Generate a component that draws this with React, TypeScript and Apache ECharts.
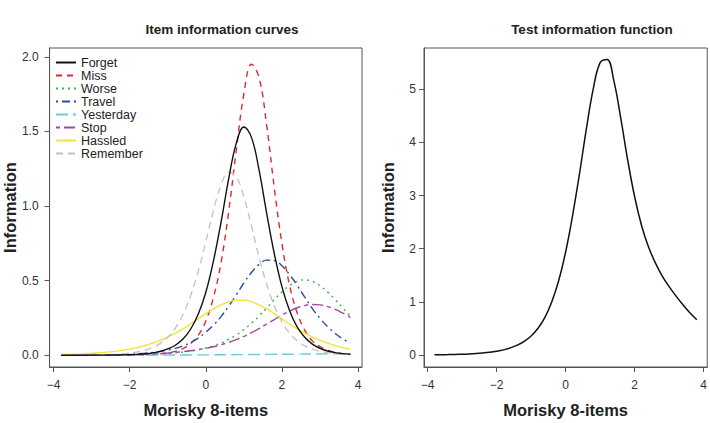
import { useEffect, useRef } from "react";
import * as echarts from "echarts";

const theta = [
  -3.8, -3.6, -3.4, -3.2, -3.0, -2.8, -2.6, -2.4, -2.2, -2.0, -1.8, -1.6, -1.4,
  -1.2, -1.0, -0.8, -0.6, -0.4, -0.2, 0.0, 0.2, 0.4, 0.6, 0.8, 1.0, 1.2, 1.4,
  1.6, 1.8, 2.0, 2.2, 2.4, 2.6, 2.8, 3.0, 3.2, 3.4, 3.6, 3.8,
];

const forget = [
  0.0, 0.0001, 0.0001, 0.0002, 0.0003, 0.0005, 0.0008, 0.0013, 0.0022, 0.0035,
  0.0058, 0.0095, 0.0155, 0.0255, 0.042, 0.067, 0.108, 0.174, 0.274, 0.42, 0.63,
  0.89, 1.18, 1.42, 1.53, 1.46, 1.24, 0.95, 0.68, 0.46, 0.3, 0.19, 0.12, 0.074,
  0.046, 0.028, 0.017, 0.0104, 0.0063,
];
const miss = [
  0.0, 0.0, 0.0, 0.0001, 0.0001, 0.0001, 0.0002, 0.0003, 0.0005, 0.0009, 0.0016,
  0.0028, 0.0049, 0.0085, 0.0149, 0.0257, 0.0447, 0.078, 0.133, 0.23, 0.386,
  0.62, 0.96, 1.37, 1.75, 1.95, 1.86, 1.54, 1.12, 0.75, 0.47, 0.284, 0.168,
  0.096, 0.057, 0.033, 0.019, 0.0106, 0.006,
];
const worse = [
  0.0002, 0.0003, 0.0004, 0.0005, 0.0007, 0.0009, 0.0013, 0.0017, 0.0022,
  0.0029, 0.0039, 0.0051, 0.0068, 0.0091, 0.0121, 0.016, 0.021, 0.028, 0.0365,
  0.048, 0.063, 0.082, 0.106, 0.135, 0.172, 0.214, 0.263, 0.317, 0.372, 0.424,
  0.466, 0.495, 0.505, 0.495, 0.466, 0.424, 0.372, 0.317, 0.263,
];
const travel = [
  0.0004, 0.0006, 0.0008, 0.001, 0.0014, 0.002, 0.0027, 0.0038, 0.0051, 0.0071,
  0.0098, 0.0134, 0.0183, 0.025, 0.035, 0.046, 0.063, 0.086, 0.115, 0.154,
  0.201, 0.259, 0.328, 0.404, 0.484, 0.554, 0.609, 0.637, 0.634, 0.6, 0.541,
  0.468, 0.389, 0.312, 0.247, 0.191, 0.146, 0.109, 0.081,
];
const yesterday = [
  0.0002, 0.0002, 0.0003, 0.0003, 0.0004, 0.0004, 0.0005, 0.0006, 0.0006,
  0.0007, 0.0008, 0.0009, 0.001, 0.0012, 0.0013, 0.0015, 0.0017, 0.0019, 0.0021,
  0.0024, 0.0027, 0.003, 0.0034, 0.0038, 0.0042, 0.0046, 0.0051, 0.0055, 0.006,
  0.0065, 0.0069, 0.0074, 0.0078, 0.0082, 0.0085, 0.0088, 0.009, 0.0092, 0.0093,
];
const stop = [
  0.0006, 0.0007, 0.0009, 0.0012, 0.0015, 0.0019, 0.0024, 0.003, 0.0038, 0.0047,
  0.006, 0.0075, 0.0094, 0.0119, 0.0149, 0.0187, 0.0238, 0.0296, 0.037, 0.046,
  0.057, 0.07, 0.086, 0.105, 0.126, 0.151, 0.178, 0.208, 0.239, 0.269, 0.295,
  0.318, 0.333, 0.34, 0.337, 0.326, 0.307, 0.282, 0.254,
];
const hassled = [
  0.0048, 0.0062, 0.0079, 0.01, 0.0127, 0.0161, 0.0204, 0.0258, 0.0326, 0.041,
  0.051, 0.065, 0.081, 0.099, 0.121, 0.148, 0.176, 0.209, 0.244, 0.279, 0.311,
  0.338, 0.358, 0.369, 0.369, 0.358, 0.338, 0.311, 0.279, 0.244, 0.209, 0.176,
  0.148, 0.121, 0.099, 0.081, 0.065, 0.051, 0.041,
];
const remember = [
  0.0003, 0.0004, 0.0006, 0.001, 0.0015, 0.0023, 0.0036, 0.0057, 0.0088, 0.0137,
  0.0214, 0.033, 0.051, 0.079, 0.12, 0.182, 0.273, 0.398, 0.56, 0.76, 0.968,
  1.139, 1.226, 1.196, 1.061, 0.866, 0.656, 0.475, 0.331, 0.223, 0.149, 0.098,
  0.063, 0.041, 0.026, 0.017, 0.011, 0.0071, 0.0045,
];

const testInfo = [
  0.0065, 0.0085, 0.011, 0.0143, 0.0186, 0.0242, 0.0319, 0.0422, 0.0558, 0.0745,
  0.1, 0.137, 0.188, 0.259, 0.361, 0.505, 0.71, 1.005, 1.402, 1.939, 2.619,
  3.401, 4.247, 5.003, 5.496, 5.558, 5.149, 4.444, 3.661, 2.977, 2.437, 2.036,
  1.734, 1.487, 1.287, 1.109, 0.946, 0.796, 0.665,
];

const itemNames = [
  "Forget",
  "Miss",
  "Worse",
  "Travel",
  "Yesterday",
  "Stop",
  "Hassled",
  "Remember",
];
const itemValues = [forget, miss, worse, travel, yesterday, stop, hassled, remember];
const itemColors = [
  "#111111",
  "#DC2A30",
  "#3DB347",
  "#2C4C9C",
  "#6CCCDA",
  "#A4479F",
  "#F2E33A",
  "#C4C4C4",
];
const itemDashes: any[] = [
  "solid",
  [6, 5],
  [2, 4],
  [2, 4, 8, 4],
  [12, 5],
  [4, 4, 11, 4],
  "solid",
  [7, 5],
];

const xTicks = [-4, -2, 0, 2, 4];
const yTicksLeft = [0, 0.5, 1, 1.5, 2];
const yTicksRight = [0, 1, 2, 3, 4, 5];

const FONT = "'Liberation Sans', Arial, Helvetica, sans-serif";
const AXIS_COLOR = "#555555";
const LABEL_COLOR = "#333333";

const minus = (s: string) => s.replace("-", "\u2212");

export default function App() {
  const ref = useRef<HTMLDivElement>(null);

  useEffect(() => {
    if (!ref.current) return;
    const chart = echarts.init(ref.current, null, { renderer: "svg" });

    const xAxisBase = (gridIndex: number) => ({
      type: "value",
      gridIndex,
      min: -4.104,
      max: 4.104,
      name: "Morisky 8-items",
      nameLocation: "middle",
      nameGap: 34,
      nameTextStyle: {
        fontFamily: FONT,
        fontSize: 16.5,
        fontWeight: "bold",
        color: "#222222",
      },
      axisLine: {
        show: true,
        onZero: false,
        lineStyle: { color: AXIS_COLOR, width: 1 },
      },
      axisTick: {
        show: true,
        inside: false,
        length: 5,
        customValues: xTicks,
        lineStyle: { color: AXIS_COLOR, width: 1 },
      },
      axisLabel: {
        customValues: xTicks,
        margin: 12,
        fontFamily: FONT,
        fontSize: 12,
        color: LABEL_COLOR,
        formatter: (v: number) => minus(String(v)),
      },
      splitLine: { show: false },
    });

    const yAxisBase = (
      gridIndex: number,
      min: number,
      max: number,
      ticks: number[],
      digits: number,
      gap: number,
      margin: number
    ) => ({
      type: "value",
      gridIndex,
      min,
      max,
      name: "Information",
      nameLocation: "middle",
      nameRotate: 90,
      nameGap: gap,
      nameTextStyle: {
        fontFamily: FONT,
        fontSize: 16.5,
        fontWeight: "bold",
        color: "#222222",
      },
      axisLine: {
        show: true,
        onZero: false,
        lineStyle: { color: AXIS_COLOR, width: 1 },
      },
      axisTick: {
        show: true,
        inside: false,
        length: 5,
        customValues: ticks,
        lineStyle: { color: AXIS_COLOR, width: 1 },
      },
      axisLabel: {
        customValues: ticks,
        margin: margin,
        fontFamily: FONT,
        fontSize: 12,
        color: LABEL_COLOR,
        formatter: (v: number) => v.toFixed(digits),
      },
      splitLine: { show: false },
    });

    const itemSeries = itemNames.map((name, i) => ({
      name,
      type: "line",
      xAxisIndex: 0,
      yAxisIndex: 0,
      data: theta.map((t, j) => [t, itemValues[i][j]]),
      showSymbol: false,
      symbol: "none",
      smooth: 0.4,
      lineStyle: { color: itemColors[i], width: 1.4, type: itemDashes[i] },
      itemStyle: { color: itemColors[i] },
      z: i === 0 ? 10 : 5,
    }));

    chart.setOption({
      animation: false,
      backgroundColor: "#ffffff",
      textStyle: { fontFamily: FONT },
      title: [
        {
          text: "Item information curves",
          left: 217,
          top: 17,
          textAlign: "center",
          textStyle: {
            fontFamily: FONT,
            fontSize: 13.5,
            fontWeight: "bold",
            color: "#222222",
          },
        },
        {
          text: "Test information function",
          left: 587,
          top: 17,
          textAlign: "center",
          textStyle: {
            fontFamily: FONT,
            fontSize: 13.5,
            fontWeight: "bold",
            color: "#222222",
          },
        },
      ],
      legend: {
        data: itemNames,
        orient: "vertical",
        left: 55,
        top: 56,
        padding: 0,
        itemGap: 0,
        itemWidth: 20,
        itemHeight: 10,
        selectedMode: false,
        itemStyle: { opacity: 0 },
        textStyle: {
          fontFamily: FONT,
          fontSize: 12.5,
          color: "#222222",
          lineHeight: 12.6,
          height: 12.6,
        },
      },
      grid: [
        {
          left: 48,
          right: 348,
          top: 48,
          bottom: 52,
          show: true,
          borderColor: AXIS_COLOR,
          borderWidth: 1,
          backgroundColor: "transparent",
        },
        {
          left: 424,
          right: 1,
          top: 48,
          bottom: 52,
          show: true,
          borderColor: AXIS_COLOR,
          borderWidth: 1,
          backgroundColor: "transparent",
        },
      ],
      xAxis: [xAxisBase(0), xAxisBase(1)],
      yAxis: [
        yAxisBase(0, -0.079, 2.059, yTicksLeft, 1, 31, 11),
        yAxisBase(1, -0.222, 5.772, yTicksRight, 0, 28, 8),
      ],
      series: [
        ...itemSeries,
        {
          name: "Test information",
          type: "line",
          xAxisIndex: 1,
          yAxisIndex: 1,
          data: theta.map((t, j) => [t, testInfo[j]]),
          showSymbol: false,
          symbol: "none",
          smooth: 0.4,
          lineStyle: { color: "#111111", width: 1.5 },
          itemStyle: { color: "#111111" },
        },
      ],
    });

    return () => chart.dispose();
  }, []);

  return (
    <div
      ref={ref}
      style={{ position: "fixed", left: 0, top: 0, width: 710, height: 423 }}
    />
  );
}
